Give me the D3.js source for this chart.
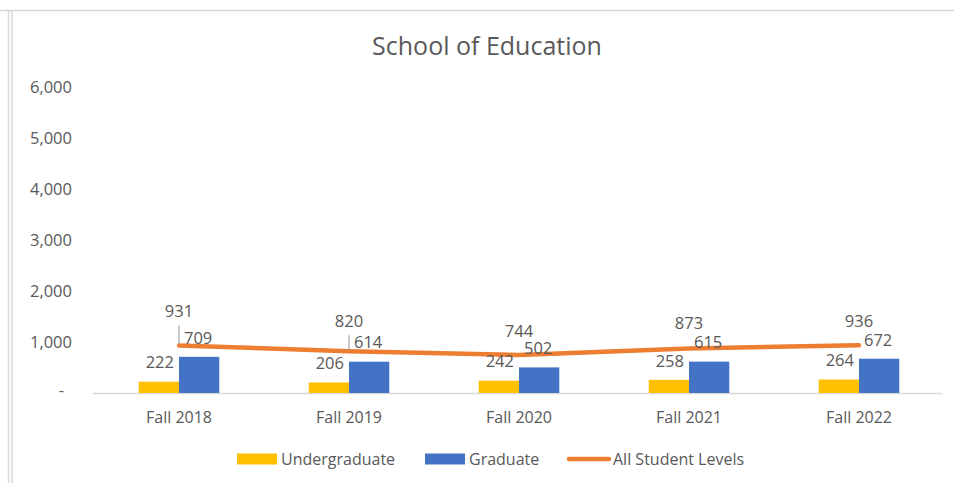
<!DOCTYPE html>
<html><head><meta charset="utf-8">
<script src="https://cdn.jsdelivr.net/npm/d3@7"></script>
<style>body{margin:0;background:#fff;} svg{display:block;}</style>
</head><body>
<script>
const categories = ["Fall 2018","Fall 2019","Fall 2020","Fall 2021","Fall 2022"];
const undergraduate = [222,206,242,258,264];
const graduate = [709,614,502,615,672];
const allLevels = [931,820,744,873,936];
const yTicks = [0,1000,2000,3000,4000,5000,6000];
const seriesNames = ["Undergraduate","Graduate","All Student Levels"];
const title = "School of Education";

const W=954,H=483;
const font="'Open Sans', sans-serif";
const txt="#595959";
const colU="#FFC000", colG="#4472C4", colL="#ED7D31";

const svg=d3.select("body").append("svg").attr("width",W).attr("height",H);
svg.append("rect").attr("width",W).attr("height",H).attr("fill","#fff");
// frame lines
const fr=svg.append("g").attr("stroke","#d6d6d6").attr("stroke-width",1.5).attr("fill","none");
fr.append("line").attr("x1",0).attr("x2",W).attr("y1",10.5).attr("y2",10.5);
fr.append("line").attr("x1",8.5).attr("x2",8.5).attr("y1",10).attr("y2",H);
fr.append("line").attr("x1",12).attr("x2",12).attr("y1",10).attr("y2",H);

const x=d3.scaleBand().domain(categories).range([94,944]);
const xs=d3.scaleBand().domain(["u","g"]).range([0,x.bandwidth()]).paddingInner(0).paddingOuter(1.11);
const y=d3.scaleLinear().domain([0,6000]).range([393,87]);

svg.append("text").attr("x",487).attr("y",55).attr("text-anchor","middle")
  .attr("font-family",font).attr("font-size",25).attr("fill",txt).text(title);

// y tick labels
const fmt=d3.format(",");
svg.append("g").selectAll("text").data(yTicks).join("text")
  .attr("x",d=>d===0?64:72).attr("y",d=>y(d)).attr("dy",d=>d===0?"0.2em":"0.35em")
  .attr("text-anchor","end").attr("font-family",font).attr("font-size",16.5).attr("fill",txt)
  .text(d=>d===0?"-":fmt(d));

// x axis line
svg.append("line").attr("x1",93).attr("x2",942).attr("y1",y(0)+0.5).attr("y2",y(0)+0.5)
  .attr("stroke","#d9d9d9").attr("stroke-width",1.5);

// category labels
svg.append("g").selectAll("text").data(categories).join("text")
  .attr("x",d=>x(d)+x.bandwidth()/2).attr("y",417).attr("dy","0.35em").attr("text-anchor","middle")
  .attr("font-family",font).attr("font-size",16).attr("fill",txt).text(d=>d);

// bars
const bars=svg.append("g");
bars.selectAll("rect.u").data(undergraduate).join("rect").attr("class","u")
  .attr("x",(d,i)=>x(categories[i])+xs("u")).attr("width",xs.bandwidth())
  .attr("y",d=>y(d)).attr("height",d=>y(0)-y(d)).attr("fill",colU);
bars.selectAll("rect.g").data(graduate).join("rect").attr("class","g")
  .attr("x",(d,i)=>x(categories[i])+xs("g")).attr("width",xs.bandwidth())
  .attr("y",d=>y(d)).attr("height",d=>y(0)-y(d)).attr("fill",colG);

// line
const cx=c=>x(c)+x.bandwidth()/2;
svg.append("path").datum(allLevels)
  .attr("d",d3.line().x((d,i)=>cx(categories[i])).y(d=>y(d)))
  .attr("fill","none").attr("stroke",colL).attr("stroke-width",4.5).attr("stroke-linecap","round");

// labels
const lab=svg.append("g").attr("font-family",font).attr("font-size",16.5).attr("fill",txt).attr("text-anchor","middle");
lab.selectAll("text.u").data(undergraduate).join("text").attr("class","u")
  .attr("x",(d,i)=>x(categories[i])+xs("u")+xs.bandwidth()/2+1).attr("y",d=>y(d)-19).attr("dy","0.35em").text(d=>d);
lab.selectAll("text.g").data(graduate).join("text").attr("class","g")
  .attr("x",(d,i)=>x(categories[i])+xs("g")+xs.bandwidth()/2-1).attr("y",d=>y(d)-19).attr("dy","0.35em").text(d=>d);
// line labels (offsets above the line; first two use leader lines)
const lineLabelDy=[-34,-30,-24,-25,-24.5];
lab.selectAll("text.l").data(allLevels).join("text").attr("class","l")
  .attr("x",(d,i)=>cx(categories[i])).attr("y",(d,i)=>y(d)+lineLabelDy[i]).attr("dy","0.35em").text(d=>d);
const leaders=[[0,-20,-2],[1,-16,-1]];
svg.append("g").selectAll("line").data(leaders).join("line")
  .attr("x1",d=>cx(categories[d[0]])).attr("x2",d=>cx(categories[d[0]]))
  .attr("y1",d=>y(allLevels[d[0]])+d[1]).attr("y2",d=>y(allLevels[d[0]])+d[2])
  .attr("stroke","#a6a6a6").attr("stroke-width",1.2);

// legend
const lg=svg.append("g").attr("font-family",font).attr("font-size",16).attr("fill",txt);
lg.append("rect").attr("x",237).attr("y",453.5).attr("width",40).attr("height",11).attr("fill",colU);
lg.append("text").attr("x",281).attr("y",459).attr("dy","0.35em").text(seriesNames[0]);
lg.append("rect").attr("x",425).attr("y",453.5).attr("width",40).attr("height",11).attr("fill",colG);
lg.append("text").attr("x",469).attr("y",459).attr("dy","0.35em").text(seriesNames[1]);
lg.append("line").attr("x1",569).attr("x2",609).attr("y1",459).attr("y2",459)
  .attr("stroke",colL).attr("stroke-width",4.5).attr("stroke-linecap","round");
lg.append("text").attr("x",613).attr("y",459).attr("dy","0.35em").text(seriesNames[2]);
</script>
</body></html>
